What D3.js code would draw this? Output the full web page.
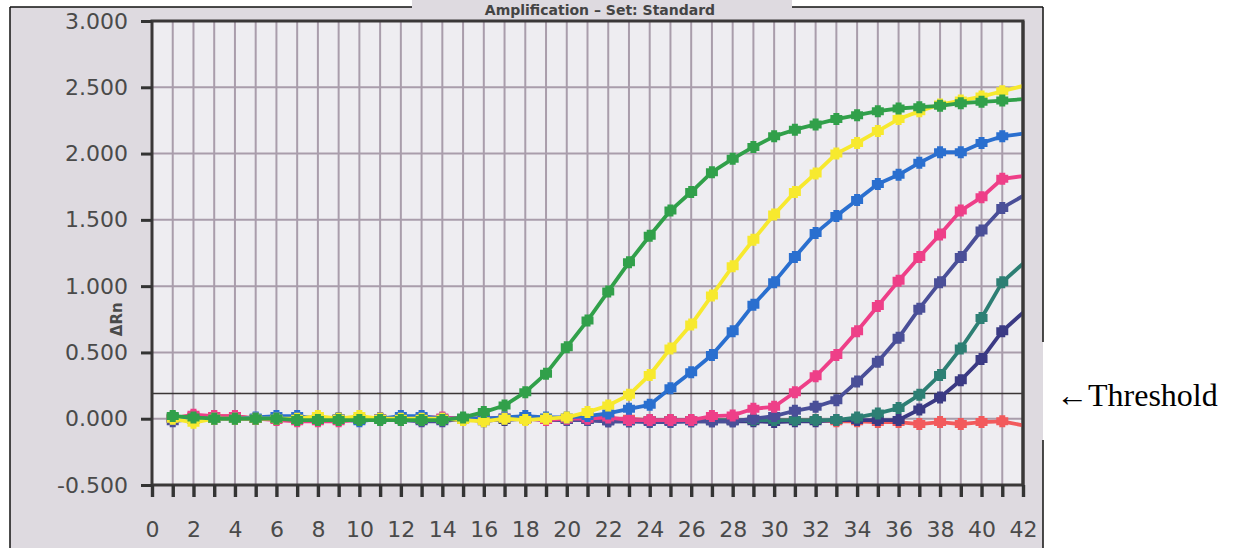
<!DOCTYPE html>
<html><head><meta charset="utf-8">
<script src="https://cdn.jsdelivr.net/npm/d3@7"></script>
<style>html,body{margin:0;padding:0;background:#fff;}svg{display:block;}</style>
</head><body>
<script>
const cycles = [1,2,3,4,5,6,7,8,9,10,11,12,13,14,15,16,17,18,19,20,21,22,23,24,25,26,27,28,29,30,31,32,33,34,35,36,37,38,39,40,41,42];
const xTicks = [0,2,4,6,8,10,12,14,16,18,20,22,24,26,28,30,32,34,36,38,40,42];
const yTicks = [-0.5,0,0.5,1,1.5,2,2.5,3];
const threshold = 0.19;
const titleText = "Amplification – Set: Standard";
const yLabel = "ΔRn";
const thresholdLabel = "←Threshold";

const salmon = [0.01,0.02,0.02,0.02,0.00,0.00,0.00,0.00,0.00,0.00, 0.00,0.00,0.00,0.00,-0.01,-0.01,0.00,0.00,0.00,0.00, 0.00,0.00,0.00,-0.01,-0.01,-0.01,-0.01,-0.01,-0.01,-0.01, -0.01,-0.01,-0.02,-0.02,-0.025,-0.025,-0.04,-0.025,-0.04,-0.025, -0.02,-0.05];
const navy   = [0.00,-0.01,0.00,0.00,0.00,0.00,-0.01,0.00,0.00,0.00, 0.00,0.00,-0.01,0.00,0.00,0.00,-0.01,0.00,0.00,-0.01, -0.01,-0.02,-0.02,-0.02,-0.02,-0.02,-0.02,-0.02,-0.02,-0.025, -0.02,-0.02,-0.01,-0.01,-0.01,-0.01,0.07,0.16,0.29,0.45, 0.66,0.80];
const teal   = [0.01,0.00,0.00,0.00,0.00,0.00,0.00,0.00,0.00,0.00, 0.00,0.00,0.00,0.00,0.00,0.00,0.00,0.00,0.00,0.00, -0.01,-0.01,-0.01,-0.01,-0.01,-0.01,-0.01,-0.01,-0.01,-0.01, -0.01,-0.01,-0.01,0.01,0.04,0.08,0.18,0.33,0.53,0.76, 1.03,1.17];
const slate  = [-0.02,0.00,0.00,0.00,0.00,0.00,0.00,0.00,0.00,0.00, 0.00,-0.01,-0.02,-0.02,0.00,-0.02,0.00,0.00,-0.01,-0.01, -0.01,-0.02,-0.02,-0.025,-0.025,-0.02,-0.02,-0.02,0.00,0.02, 0.06,0.09,0.14,0.28,0.43,0.61,0.83,1.03,1.22,1.42, 1.59,1.68];
const pink   = [0.00,0.03,0.02,0.02,0.00,-0.01,-0.02,-0.02,-0.02,-0.01, 0.00,0.00,0.01,0.01,0.00,0.00,0.01,0.00,-0.01,0.00, 0.00,0.01,-0.01,-0.01,-0.01,-0.01,0.02,0.025,0.075,0.09, 0.20,0.32,0.48,0.66,0.85,1.04,1.22,1.39,1.57,1.67, 1.81,1.83];
const blue   = [0.00,0.00,0.00,0.00,0.01,0.02,0.02,0.00,0.00,-0.02, 0.00,0.02,0.02,0.00,0.00,0.00,0.01,0.02,0.01,0.01, 0.02,0.04,0.075,0.105,0.23,0.35,0.48,0.66,0.86,1.03, 1.22,1.40,1.53,1.65,1.77,1.84,1.93,2.01,2.01,2.08, 2.13,2.15];
const yellow = [0.00,-0.03,0.00,0.00,0.00,0.00,0.00,0.02,0.00,0.02, 0.00,0.00,0.00,0.00,-0.01,-0.02,0.00,-0.01,0.00,0.01, 0.05,0.10,0.18,0.33,0.53,0.71,0.93,1.15,1.35,1.54, 1.71,1.85,2.00,2.08,2.17,2.26,2.32,2.37,2.40,2.43, 2.47,2.51];
const green  = [0.02,0.01,0.00,0.00,0.00,0.00,-0.01,-0.01,-0.01,-0.01, -0.01,-0.01,-0.01,-0.01,0.01,0.05,0.10,0.20,0.34,0.54, 0.74,0.96,1.18,1.38,1.57,1.71,1.86,1.96,2.05,2.13, 2.18,2.22,2.26,2.29,2.32,2.34,2.35,2.36,2.38,2.39, 2.40,2.41];

const seriesNames = ["salmon","navy","teal","slate","pink","blue","yellow","green"];
const seriesValues = [salmon,navy,teal,slate,pink,blue,yellow,green];
const seriesColors = ["#f25a5c","#3b3a84","#2d7f74","#4a4f98","#ee3f88","#2a6fcf","#f7e92e","#31a04a"];

const W = 1237, H = 548;
const svg = d3.select("body").append("svg").attr("width", W).attr("height", H);

const x = d3.scaleLinear().domain([0,42]).range([152,1023]);
const y = d3.scaleLinear().domain([-0.5,3]).range([485,21]);

// scanned panel background
svg.append("rect").attr("x",10).attr("y",7).attr("width",1033).attr("height",H-7).attr("fill","#dedae0");
// plot area
svg.append("rect").attr("x",x(0)).attr("y",y(3)).attr("width",x(42)-x(0)).attr("height",y(-0.5)-y(3)).attr("fill","#eeedf1");

// frame lines
svg.append("line").attr("x1",10).attr("x2",1043).attr("y1",7).attr("y2",7).attr("stroke","#111").attr("stroke-width",1.5);
svg.append("line").attr("x1",10).attr("x2",10).attr("y1",7).attr("y2",H).attr("stroke","#111").attr("stroke-width",1.5);
svg.append("line").attr("x1",1043).attr("x2",1043).attr("y1",7).attr("y2",342).attr("stroke","#111").attr("stroke-width",1.5);
svg.append("line").attr("x1",1043).attr("x2",1043).attr("y1",440).attr("y2",H).attr("stroke","#111").attr("stroke-width",1.5);

// title (sits in the thin band at the top)
svg.append("rect").attr("x",412).attr("y",0).attr("width",380).attr("height",17).attr("fill","#dedae0");
svg.append("text").attr("x",600).attr("y",15).attr("text-anchor","middle").attr("font-family","DejaVu Sans").attr("font-weight","bold")
  .attr("font-size",14).attr("fill","#444").text(titleText);

// grid
const grid = svg.append("g");
grid.selectAll(".vg").data(d3.range(1,42)).join("line")
  .attr("x1",d=>x(d)).attr("x2",d=>x(d)).attr("y1",y(3)).attr("y2",y(-0.5))
  .attr("stroke","#a99dab").attr("stroke-width",2);
grid.selectAll(".hg").data(yTicks.slice(1,-1)).join("line")
  .attr("x1",x(0)).attr("x2",x(42)).attr("y1",d=>y(d)).attr("y2",d=>y(d))
  .attr("stroke","#a99dab").attr("stroke-width",2);

// threshold
svg.append("line").attr("x1",x(0)).attr("x2",x(42)).attr("y1",y(threshold)).attr("y2",y(threshold))
  .attr("stroke","#3a3636").attr("stroke-width",1.6);

// plot frame
svg.append("rect").attr("x",x(0)).attr("y",y(3)).attr("width",x(42)-x(0)).attr("height",y(-0.5)-y(3))
  .attr("fill","none").attr("stroke","#3a3838").attr("stroke-width",3);

// axes
const xAxis = d3.axisBottom(x).tickValues(cycles.concat([0])).tickSize(12).tickFormat("");
const gx = svg.append("g").attr("transform",`translate(0,${y(-0.5)})`).call(xAxis);
gx.select(".domain").remove();
gx.selectAll(".tick line").attr("stroke","#333").attr("stroke-width",3.4);
const gxl = svg.append("g").attr("transform",`translate(0,${y(-0.5)})`)
  .call(d3.axisBottom(x).tickValues(xTicks).tickSize(0).tickPadding(36).tickFormat(d3.format("d")));
gxl.select(".domain").remove();
gxl.selectAll("text").attr("font-family","DejaVu Sans").attr("font-size",22).attr("fill","#4a4a4a");

const fmtY = v => d3.format(".3f")(v).replace("−","-");
const yAxis = d3.axisLeft(y).tickValues(yTicks).tickSize(11).tickPadding(13).tickFormat(fmtY);
const gy = svg.append("g").attr("transform",`translate(${x(0)},0)`).call(yAxis);
gy.select(".domain").remove();
gy.selectAll(".tick line").attr("stroke","#333").attr("stroke-width",3);
gy.selectAll("text").attr("font-family","DejaVu Sans").attr("font-size",22).attr("fill","#4a4a4a");

svg.append("text").attr("transform",`translate(122,${(y(1)+y(0.5))/2}) rotate(-90)`).attr("text-anchor","middle")
  .attr("font-family","DejaVu Sans").attr("font-weight","bold").attr("font-size",15).attr("fill","#4a4a4a").text(yLabel);

// series
svg.append("clipPath").attr("id","pc").append("rect").attr("x",x(0)).attr("y",y(3)).attr("width",x(42)-x(0)).attr("height",y(-0.5)-y(3));
const plot = svg.append("g").attr("clip-path","url(#pc)");
const line = d3.line().x((d,i)=>x(cycles[i])).y(d=>y(d));
const marker = "M-6,-4h12v8h-12z M-3,-6h6v12h-6z";
seriesValues.forEach((vals,k)=>{
  const g = plot.append("g").attr("class",seriesNames[k]);
  g.append("path").attr("d",line(vals)).attr("fill","none").attr("stroke",seriesColors[k]).attr("stroke-width",3.8).attr("stroke-linejoin","round");
  g.selectAll("path.m").data(vals.map((v,i)=>({c:cycles[i],v})).filter(d=>d.c<42)).join("path").attr("class","m")
    .attr("d",marker).attr("transform",d=>`translate(${x(d.c)},${y(d.v)})`).attr("fill",seriesColors[k]);
});

// redraw frame right border on top
svg.append("line").attr("x1",x(42)).attr("x2",x(42)).attr("y1",y(3)).attr("y2",y(-0.5)).attr("stroke","#3a3838").attr("stroke-width",3);

// threshold annotation
svg.append("text").attr("x",1056).attr("y",406).attr("font-family","Liberation Serif").attr("font-size",32).attr("fill","#000").text(thresholdLabel);
</script>
</body></html>
